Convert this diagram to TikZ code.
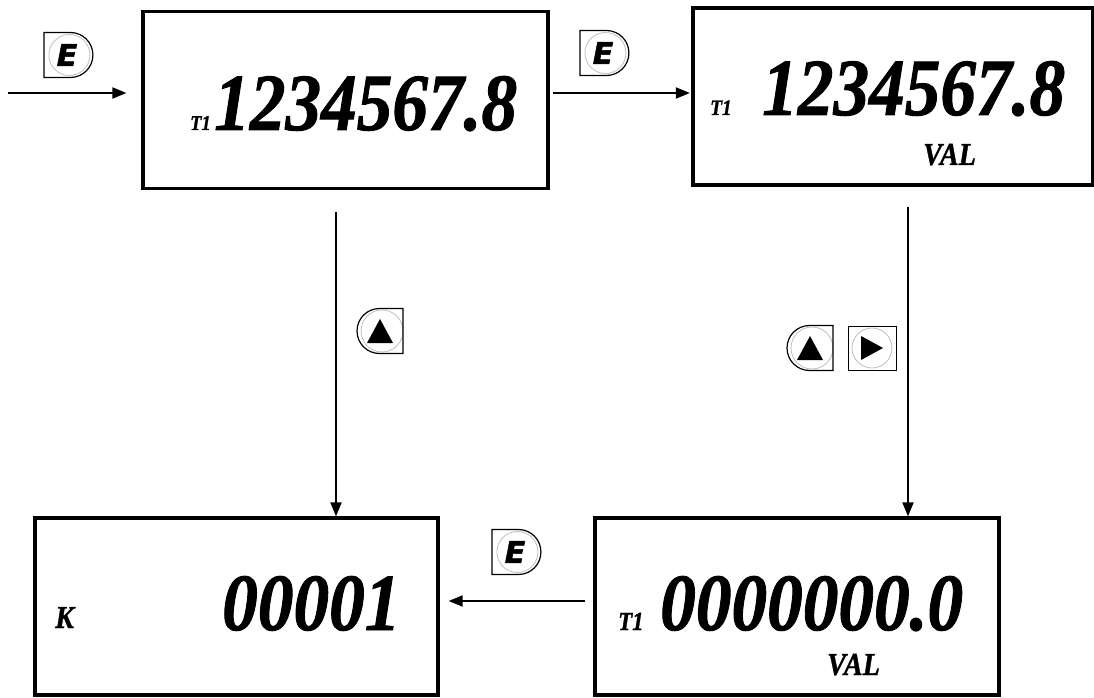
\documentclass[tikz,border=0pt]{standalone}
\usepackage{fontspec}
\usetikzlibrary{arrows.meta,positioning,calc}
\usetikzlibrary{shapes.misc}
\newfontfamily\lcdfont[FakeBold=1.2]{Liberation Serif Bold Italic}
\newfontfamily\keyfont[FakeBold=2]{DejaVu Sans Bold Oblique}
\newcommand{\lcd}[1]{\scalebox{0.88}[1]{#1}}

\tikzset{
	display/.style={draw,line width=3.2pt,minimum height=177pt,inner sep=0pt},
	digits/.style={anchor=base west,inner sep=0pt,font=\lcdfont\fontsize{81}{81}\selectfont},
	tag/.style={anchor=base west,inner sep=0pt,font=\lcdfont\fontsize{#1}{#1}\selectfont},
	arr/.style={-{Triangle[length=14pt,width=11pt]},line width=1.8pt},
	ekey/.style={rounded rectangle,rounded rectangle left arc=none,draw,line width=1.2pt,
		minimum width=49pt,minimum height=45pt,inner sep=0pt,
		font=\keyfont\fontsize{30}{30}\selectfont,
		path picture={\draw[gray!50,line width=0.8pt] ([xshift=1pt]path picture bounding box.center) circle (20.5pt);}},
	upkey/.style={rounded rectangle,rounded rectangle right arc=none,draw,line width=1.2pt,
		minimum width=46pt,minimum height=45pt,inner sep=0pt,
		path picture={\draw[gray!50,line width=0.8pt] ([xshift=2pt]path picture bounding box.center) circle (21pt);
			\fill ([yshift=12pt]path picture bounding box.center) -- ++(-13pt,-24pt) -- ++(26pt,0pt) -- cycle;}},
	rkey/.style={draw,line width=1pt,minimum width=48pt,minimum height=44pt,inner sep=0pt,
		path picture={\draw[gray!50,line width=0.8pt] (path picture bounding box.center) circle (20pt);
			\fill ([xshift=11pt]path picture bounding box.center) -- ++(-22pt,12pt) -- ++(0pt,-24pt) -- cycle;}}
}

\begin{document}
\begin{tikzpicture}[x=1pt,y=1pt]
\useasboundingbox (0,0) rectangle (1094,697);

\node[display,minimum width=405pt] (boxA) at (345.5,597) {};
\node[display,minimum width=400pt] (boxB) at (893,600.5) {};
\node[display,minimum width=403pt] (boxC) at (236.5,90.5) {};
\node[display,minimum width=404pt] (boxD) at (797,90.5) {};

\node[tag=21] (tA) at (190,567) {\lcd{T1}};
\node[digits] (numA) at (214,567) {\lcd{1234567.8}};
\node[tag=22] (tB) at (710,582) {\lcd{T1}};
\node[digits] (numB) at (762,582) {\lcd{1234567.8}};
\node[tag=32] (valB) at (923,532) {\lcd{VAL}};
\node[tag=32] (kC) at (55,69) {\lcd{K}};
\node[digits] (numC) at (222,67) {\lcd{00001}};
\node[tag=26] (tD) at (618,67) {\lcd{T1}};
\node[digits] (numD) at (660,67) {\lcd{0000000.0}};
\node[tag=32] (valD) at (827,22) {\lcd{VAL}};

\node[ekey] (eIn) at (67,642) {E};
\node[ekey] (eAB) at (603,644) {E};
\node[ekey] (eDC) at (515,145) {E};
\node[upkey] (upA) at (380,366) {};
\node[upkey] (upB) at (810,349) {};
\node[rkey] (rtB) at (872,349) {};

\coordinate (in) at (8,604);
\coordinate (downA) at (336,485);
\coordinate (downB) at (908,490);
\coordinate (back) at (585,96);

\draw[arr,shorten >=15pt] (in) -- (in -| boxA.west);
\draw[arr,shorten <=3pt,shorten >=1.5pt] (in -| boxA.east) -- (in -| boxB.west);
\draw[arr] (downA) -- (downA |- boxC.north);
\draw[arr] (downB) -- (downB |- boxD.north);
\draw[arr,shorten >=9pt] (back) -- (back -| boxC.east);

\end{tikzpicture}
\end{document}
